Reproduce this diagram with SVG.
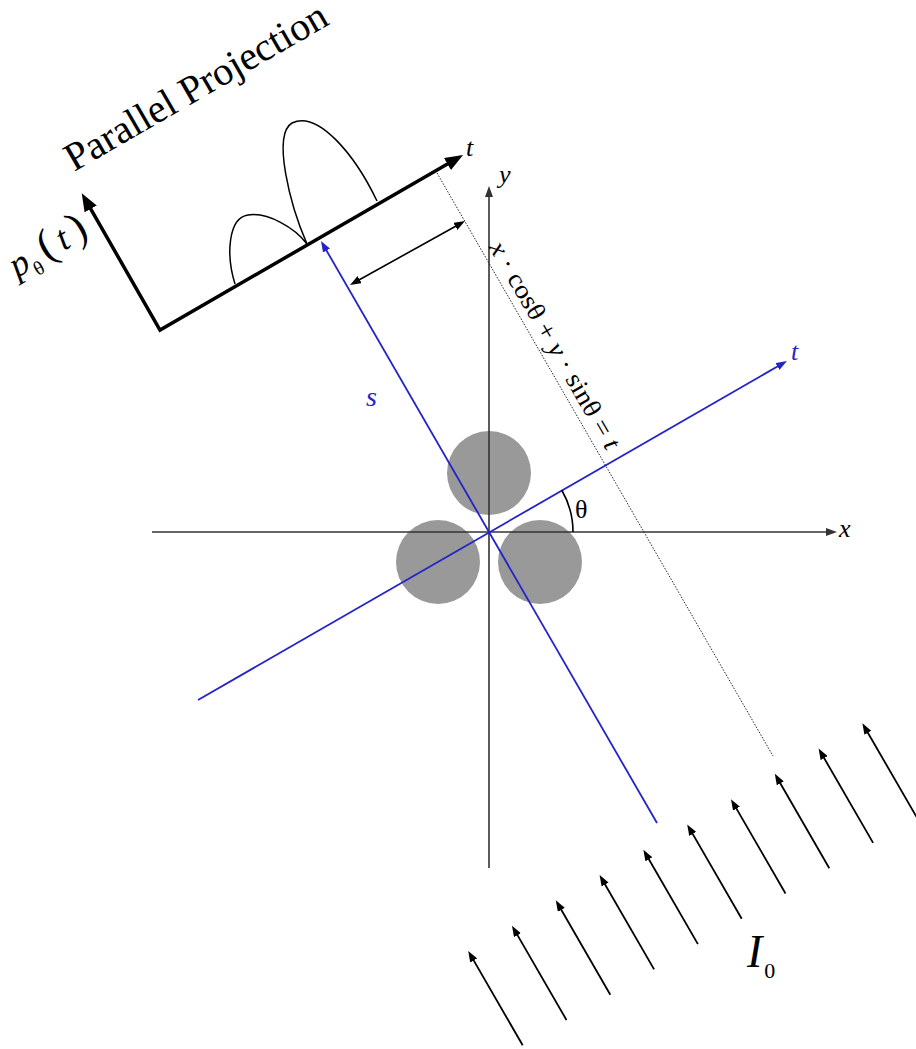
<svg xmlns="http://www.w3.org/2000/svg" width="916" height="1049" viewBox="0 0 916 1049">
<style>
text{font-family:'Liberation Serif','Times New Roman','DejaVu Serif',serif;fill:#000}
.it{font-style:italic}
.axis{stroke:#333;stroke-width:1.6;fill:none}
.blue{stroke:#2323c8;stroke-width:1.8;fill:none}
.thick{stroke:#000;stroke-width:3.5;fill:none;stroke-linejoin:miter}
.thin{stroke:#000;stroke-width:1.6;fill:none}
.curve{stroke:#000;stroke-width:1.5;fill:none}
.dot{stroke:#222;stroke-width:1;stroke-dasharray:1.5 1.5;fill:none}
.beam{stroke:#000;stroke-width:1.8;fill:none}
.blob{fill:#999}
</style>
<defs>
<marker id="bigArrow" markerUnits="userSpaceOnUse" markerWidth="20" markerHeight="14" refX="10" refY="7" orient="auto-start-reverse" viewBox="0 0 20 14">
<path d="M0,0 L18,7 L0,14 z" fill="#000"/>
</marker>
<marker id="arr" markerUnits="userSpaceOnUse" markerWidth="12" markerHeight="8" refX="7" refY="4" orient="auto-start-reverse" viewBox="0 0 12 8">
<path d="M0,0 L11,4 L0,8 z" fill="#000"/>
</marker>
<marker id="arrGray" markerUnits="userSpaceOnUse" markerWidth="12" markerHeight="8" refX="7" refY="4" orient="auto" viewBox="0 0 12 8">
<path d="M0,0 L11,4 L0,8 z" fill="#333"/>
</marker>
<marker id="arrBlue" markerUnits="userSpaceOnUse" markerWidth="12" markerHeight="8" refX="7" refY="4" orient="auto" viewBox="0 0 12 8">
<path d="M0,0 L11,4 L0,8 z" fill="#2323c8"/>
</marker>
</defs>

<g id="objects">
<circle class="blob" cx="489" cy="473" r="42"/>
<circle class="blob" cx="438" cy="562" r="42"/>
<circle class="blob" cx="540" cy="562" r="42"/>
</g>

<g id="connectors">
<line class="axis" x1="152" y1="532" x2="833" y2="532" marker-end="url(#arrGray)"/>
<line class="axis" x1="489" y1="868" x2="489" y2="190" marker-end="url(#arrGray)"/>
<line class="blue" x1="198" y1="700" x2="783.5" y2="363" marker-end="url(#arrBlue)"/>
<line class="blue" x1="657" y1="823" x2="323" y2="244.5" marker-end="url(#arrBlue)"/>
<path class="thin" d="M573,532 A84,84 0 0 0 561.7,490"/>
<line class="dot" x1="437" y1="173" x2="773" y2="756"/>
<line class="thin" x1="353.5" y1="283" x2="461.5" y2="223" marker-start="url(#arr)" marker-end="url(#arr)"/>
<polyline class="thick" points="85.7,200.2 160,330 456.1,159" marker-start="url(#bigArrow)" marker-end="url(#bigArrow)"/>
<path class="curve" d="M235,284 C226,255 228,218 248,215 C268,212 295,228 307,244"/>
<path class="curve" d="M307,244 C290,205 272,135 292,123 C318,110 355,155 377,201"/>
<g class="beams">
<line class="beam" x1="522.7" y1="1045.3" x2="470.2" y2="954.4" marker-end="url(#arr)"/>
<line class="beam" x1="566.5" y1="1020.0" x2="514.0" y2="929.1" marker-end="url(#arr)"/>
<line class="beam" x1="610.3" y1="994.7" x2="557.8" y2="903.8" marker-end="url(#arr)"/>
<line class="beam" x1="654.1" y1="969.4" x2="601.6" y2="878.5" marker-end="url(#arr)"/>
<line class="beam" x1="697.9" y1="944.1" x2="645.4" y2="853.2" marker-end="url(#arr)"/>
<line class="beam" x1="741.7" y1="918.8" x2="689.2" y2="827.9" marker-end="url(#arr)"/>
<line class="beam" x1="785.5" y1="893.5" x2="733.0" y2="802.6" marker-end="url(#arr)"/>
<line class="beam" x1="829.3" y1="868.2" x2="776.8" y2="777.3" marker-end="url(#arr)"/>
<line class="beam" x1="873.1" y1="842.9" x2="820.6" y2="752.0" marker-end="url(#arr)"/>
<line class="beam" x1="916.9" y1="817.6" x2="864.4" y2="726.7" marker-end="url(#arr)"/>
</g>
</g>

<g id="labels">
<text font-size="40" transform="translate(74,172) rotate(-30)">Parallel Projection</text>
<text font-size="36" transform="translate(17,278) rotate(-30)"><tspan class="it" x="0" y="0">p</tspan><tspan x="19" y="9" font-size="20">θ</tspan><tspan x="34" y="0" font-size="44">(</tspan><tspan class="it" x="54" y="0">t</tspan><tspan x="70" y="0" font-size="44">)</tspan></text>
<text class="it" font-size="26" x="466" y="156">t</text>
<text class="it" font-size="26" x="499" y="183">y</text>
<text class="it" font-size="26" x="839" y="537">x</text>
<text class="it" font-size="26" x="791" y="360" style="fill:#2323c8">t</text>
<text class="it" font-size="28" x="366" y="406" style="fill:#2323c8">s</text>
<text font-size="26" x="575" y="518">θ</text>
<text font-size="26" textLength="236" lengthAdjust="spacingAndGlyphs" transform="translate(488.6,247.2) rotate(60)"><tspan class="it">x</tspan> · cosθ + <tspan class="it">y</tspan> · sinθ = <tspan class="it">t</tspan></text>
<text font-size="46" x="747" y="967"><tspan class="it">I</tspan><tspan font-size="22" dx="2" dy="11">0</tspan></text>
</g>
</svg>
